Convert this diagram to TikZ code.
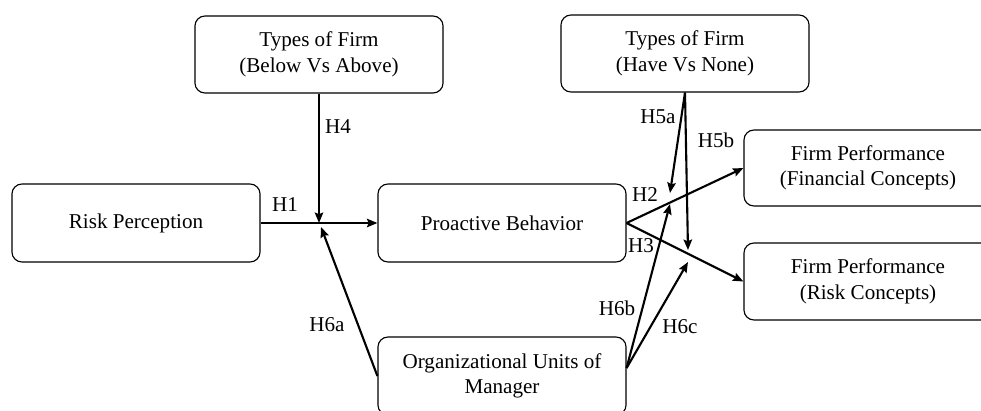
\documentclass[tikz,border=0pt]{standalone}
\usepackage{fontspec}
\setmainfont{Liberation Serif}
\usepackage{tikz}
\usetikzlibrary{arrows.meta, positioning}
\tikzset{
    construct/.style={
        rectangle,
        draw=black,
        line width=0.8pt,
        rounded corners=0.25cm,
        minimum width=6.2cm,
        minimum height=1.95cm,
        align=center,
        fill=white,
        font=\fontsize{15}{18.2}\selectfont
    },
    hyp/.style={
        draw=black,
        line width=1.5pt,
        -{Stealth[length=0.26cm, width=0.21cm, inset=0.04cm]}
    },
    hlabel/.style={
        inner sep=0pt,
        font=\fontsize{15}{17}\selectfont
    }
}

\begin{document}
\begin{tikzpicture}[x=0.025cm, y=-0.025cm]

\useasboundingbox (0,0) rectangle (981,410);

\node[construct] (rp) at (136,223) {Risk Perception};
\node[construct] (pb) at (502,223) {Proactive Behavior};
\node[construct, minimum height=1.925cm] (tfa) at (319,54.5) {Types of Firm\\(Below Vs Above)};
\node[construct, minimum height=1.925cm] (tfb) at (685,53.5) {Types of Firm\\(Have Vs None)};
\node[construct, minimum height=1.9cm] (fpf) at (868,168) {Firm Performance\\(Financial Concepts)};
\node[construct, minimum height=1.925cm] (fpr) at (868,281.5) {Firm Performance\\(Risk Concepts)};
\node[construct] (org) at (502,376) {Organizational Units of\\Manager};

% moderation points on the paths
\coordinate (m1) at (319,223);
\coordinate (m6a) at (321,227);
\coordinate (m5a) at (670,193);
\coordinate (m5b) at (688,250);
\coordinate (m6b) at (670,204);
\coordinate (m6c) at (688,262);

\draw[hyp] (rp) -- (pb);
\draw[hyp] (tfa.south) -- (m1);
\draw[hyp] (org.west) -- (m6a);
\draw[hyp] (pb.east) -- (fpf.west);
\draw[hyp] (pb.east) -- (fpr.west);
\draw[hyp] (tfb.south) -- (m5a);
\draw[hyp] (tfb.south) -- (m5b);
\draw[hyp] ([yshift=0.2cm]org.east) -- (m6b);
\draw[hyp] ([yshift=0.2cm]org.east) -- (m6c);

\node[hlabel] (h1) at (285,205) {H1};
\node[hlabel] (h4) at (338,127) {H4};
\node[hlabel] (h6a) at (327,325) {H6a};
\node[hlabel] (h5a) at (658,117) {H5a};
\node[hlabel] (h5b) at (716,140) {H5b};
\node[hlabel] (h2) at (645,195) {H2};
\node[hlabel] (h3) at (641,246) {H3};
\node[hlabel] (h6b) at (617,308) {H6b};
\node[hlabel] (h6c) at (680,327) {H6c};

\end{tikzpicture}
\end{document}
